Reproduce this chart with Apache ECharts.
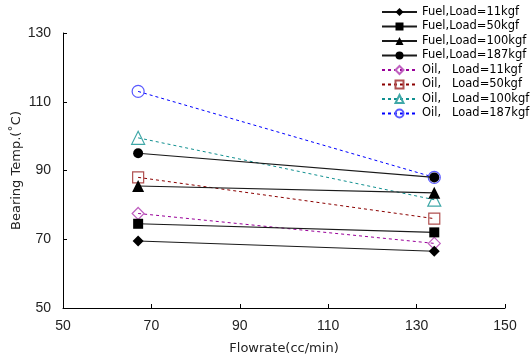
<!DOCTYPE html>
<html><head><meta charset="utf-8">
<script src="https://cdn.jsdelivr.net/npm/echarts@6/dist/echarts.min.js"></script>
<style>html,body{margin:0;padding:0;background:#fff}#c{width:531px;height:360px}</style>
</head><body><div id="c"></div>
<script>
const flowrates = [67, 134];
const fuel11 = [69.5, 66.5];
const fuel50 = [74.5, 72];
const fuel100 = [85.5, 83.5];
const fuel187 = [95, 88];
const oil11 = [77.5, 68.8];
const oil50 = [88, 76];
const oil100 = [99.5, 81.5];
const oil187 = [113, 88];
const xTicks = [50, 70, 90, 110, 130, 150];
const yTicks = [50, 70, 90, 110, 130];
const names = ['Fuel,Load=11kgf','Fuel,Load=50kgf','Fuel,Load=100kgf','Fuel,Load=187kgf',
  'Oil,   Load=11kgf','Oil,   Load=50kgf','Oil,   Load=100kgf','Oil,   Load=187kgf'];

const pts = v => flowrates.map((x, i) => [x, v[i]]);
function fuel(name, vals, symbol, size) {
  return {name, type: 'line', data: pts(vals), symbol, symbolSize: size, z: 4,
    lineStyle: {color: '#1a1a1a', width: 1.1}, itemStyle: {color: '#000', borderWidth: 0}};
}
function oil(name, vals, symbol, size, lineColor, markColor) {
  return {name, type: 'line', data: pts(vals), symbol, symbolSize: size, z: 3,
    lineStyle: {color: lineColor, width: 1, type: [3, 3]},
    itemStyle: {color: 'rgba(255,255,255,0)', borderColor: markColor, borderWidth: 1.2}};
}
const axisFont = {fontFamily: 'Liberation Sans', fontSize: 14, color: '#222'};
const nameFont = {fontFamily: 'DejaVu Sans', fontSize: 13, color: '#222'};
const chart = echarts.init(document.getElementById('c'));
chart.setOption({
  animation: false,
  backgroundColor: '#fff',
  grid: {left: 63, top: 33, right: 26, bottom: 52, containLabel: false, outerBoundsMode: 'none'},
  legend: {
    data: names, orient: 'vertical', left: 381, top: 6, padding: 0, itemWidth: 35, itemHeight: 10, itemGap: 2.5,
    textStyle: {fontFamily: 'DejaVu Sans', fontSize: 11.5, color: '#000'}, inactiveColor: '#000'
  },
  xAxis: {
    type: 'value', min: 50, max: 150,
    name: 'Flowrate(cc/min)', nameLocation: 'middle', nameGap: 34, nameMoveOverlap: false,
    nameTextStyle: nameFont,
    axisLine: {lineStyle: {color: '#000', width: 1}},
    axisTick: {inside: true, length: 4, customValues: xTicks, lineStyle: {color: '#000'}},
    axisLabel: Object.assign({margin: 11, customValues: xTicks}, axisFont),
    splitLine: {show: false}
  },
  yAxis: {
    type: 'value', min: 50, max: 130,
    name: 'Bearing Temp.(˚C)', nameLocation: 'middle', nameGap: 46, nameMoveOverlap: false,
    nameTextStyle: Object.assign({verticalAlign: 'middle'}, nameFont),
    axisLine: {show: true, lineStyle: {color: '#000', width: 1}},
    axisTick: {show: true, inside: true, length: 4, customValues: yTicks, lineStyle: {color: '#000'}},
    axisLabel: Object.assign({margin: 12, customValues: yTicks}, axisFont),
    splitLine: {show: false}
  },
  series: [
    fuel(names[0], fuel11, 'diamond', 11),
    fuel(names[1], fuel50, 'rect', 10),
    fuel(names[2], fuel100, 'triangle', 12),
    fuel(names[3], fuel187, 'circle', 10),
    oil(names[4], oil11, 'diamond', 12, '#990099', '#c060c0'),
    oil(names[5], oil50, 'rect', 11, '#8b0000', '#b05050'),
    oil(names[6], oil100, 'triangle', 13, '#109090', '#40a8a8'),
    oil(names[7], oil187, 'circle', 12, '#0000ff', '#5a5aff')
  ]
});
</script></body></html>
